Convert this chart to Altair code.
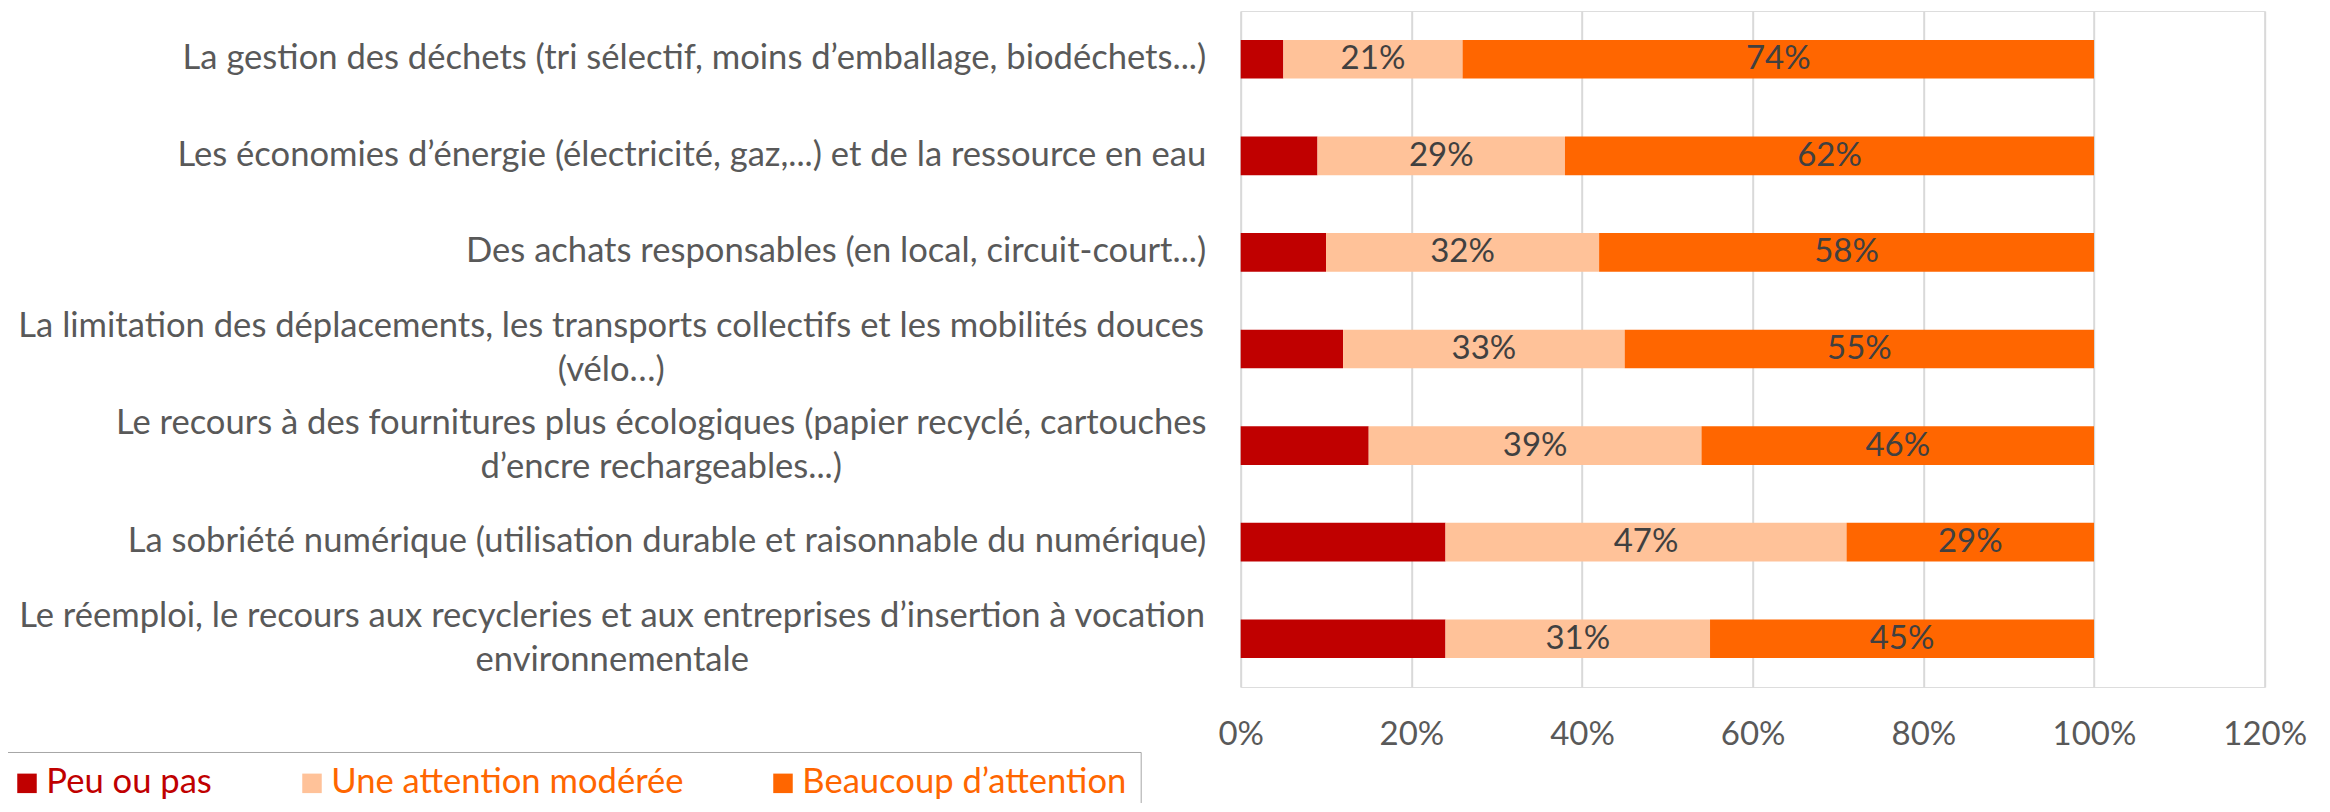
import altair as alt
import pandas as pd

categories = [
    "La gestion des déchets (tri sélectif, moins d’emballage, biodéchets...)",
    "Les économies d’énergie (électricité, gaz,...) et de la ressource en eau",
    "Des achats responsables (en local, circuit-court...)",
    "La limitation des déplacements, les transports collectifs et les mobilités douces\n(vélo…)",
    "Le recours à des fournitures plus écologiques (papier recyclé, cartouches\nd’encre rechargeables...)",
    "La sobriété numérique (utilisation durable et raisonnable du numérique)",
    "Le réemploi, le recours aux recycleries et aux entreprises d’insertion à vocation\nenvironnementale",
]
series = ["Peu ou pas", "Une attention modérée", "Beaucoup d’attention"]
peu = [5, 9, 10, 12, 15, 24, 24]
moderee = [21, 29, 32, 33, 39, 47, 31]
beaucoup = [74, 62, 58, 55, 46, 29, 45]
colors = ["#C00000", "#FFC299", "#FF6600"]
tick_values = [0, 0.2, 0.4, 0.6, 0.8, 1.0, 1.2]

rows = []
for i, cat in enumerate(categories):
    for j, (s, vals) in enumerate(zip(series, [peu, moderee, beaucoup])):
        rows.append({"cat": cat, "series": s, "idx": j, "value": vals[i] / 100.0})
df = pd.DataFrame(rows)

FONT = "Lato"
FS_TEXT = 34.6
FS_NUM = 33

y_axis = alt.Axis(
    title=None,
    labelExpr="split(datum.label, '\\n')",
    labelFont=FONT,
    labelFontSize=FS_TEXT,
    labelColor="#595959",
    labelLimit=2000,
    labelLineHeight=44,
    labelBaseline="middle",
    ticks=False,
    domain=False,
    grid=False,
    labelAlign={
        "condition": {"test": "indexof(datum.value, '\\n') >= 0", "value": "center"},
        "value": "right",
    },
    labelOffset={
        "condition": {"test": "indexof(datum.value, '\\n') >= 0", "value": -22},
        "value": 0,
    },
    labelPadding={
        "condition": [
            {"test": "indexof(datum.value, '(vélo') >= 0", "value": 630},
            {"test": "indexof(datum.value, 'cartouches') >= 0", "value": 580},
            {"test": "indexof(datum.value, 'vocation') >= 0", "value": 629},
        ],
        "value": 35,
    },
)

x_axis = alt.Axis(
    title=None,
    values=tick_values,
    format=".0%",
    labelFont=FONT,
    labelFontSize=FS_NUM,
    labelColor="#595959",
    labelBaseline="middle",
    labelPadding=48,
    labelFlush=False,
    labelOverlap=False,
    ticks=False,
    domain=False,
    grid=True,
    gridColor="#D9D9D9",
    gridWidth=2,
)

y_enc = alt.Y("cat:N", sort=categories, scale=alt.Scale(paddingInner=0.6, paddingOuter=0.3), axis=y_axis)

bars = alt.Chart(df).mark_bar().encode(
    y=y_enc,
    x=alt.X("value:Q", stack="zero", scale=alt.Scale(domain=[0, 1.2], nice=False), axis=x_axis),
    color=alt.Color(
        "series:N",
        sort=series,
        scale=alt.Scale(domain=series, range=colors),
        legend=alt.Legend(
            title=None,
            orient="none",
            legendX=-1245,
            legendY=741,
            direction="horizontal",
            symbolType="square",
            symbolSize=380,
            symbolStrokeWidth=0,
            labelFont=FONT,
            labelFontSize=FS_TEXT,
            labelColor=alt.ExprRef("datum.value == 'Peu ou pas' ? '#C00000' : '#FF6600'"),
            labelOffset=2,
            columnPadding=82,
            padding=14,
            strokeColor="#A6A6A6",
            labelLimit=2000,
        ),
    ),
    order=alt.Order("idx:Q"),
)

labels = (
    alt.Chart(df)
    .transform_stack(stack="value", groupby=["cat"], as_=["x0", "x1"], sort=[alt.SortField("idx")])
    .transform_calculate(mid="(datum.x0 + datum.x1) / 2")
    .transform_filter("datum.idx > 0")
    .mark_text(font=FONT, fontSize=FS_NUM, color="#404040", baseline="middle", align="center")
    .encode(
        y=alt.Y("cat:N", sort=categories),
        x=alt.X("mid:Q"),
        text=alt.Text("value:Q", format=".0%"),
    )
)

chart = (
    alt.layer(bars, labels)
    .properties(
        width=1024,
        height=676,
        autosize=alt.AutoSizeParams(type="none"),
        padding={"left": 1232.7, "top": 3, "right": 50, "bottom": 116},
    )
    .configure_view(stroke=None)
    .configure(font=FONT)
)

chart.save("out.html", embed_options={"renderer": "svg", "actions": False})
